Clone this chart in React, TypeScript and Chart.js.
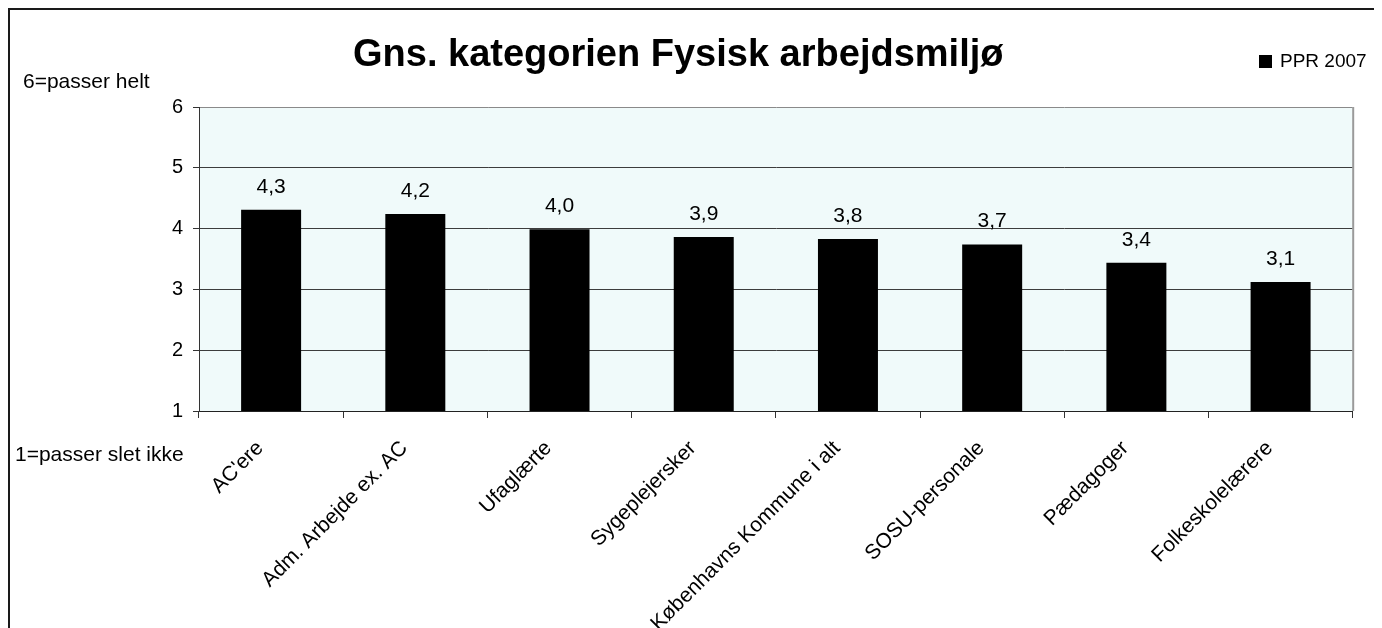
import React, { useEffect, useRef } from 'react';
import { Chart, registerables } from 'chart.js';

Chart.register(...registerables);

const chartTitle = 'Gns. kategorien Fysisk arbejdsmiljø';
const seriesName = 'PPR 2007';
const topNote = '6=passer helt';
const bottomNote = '1=passer slet ikke';
const categories = [
  "AC'ere",
  'Adm. Arbejde ex. AC',
  'Ufaglærte',
  'Sygeplejersker',
  'Københavns Kommune i alt',
  'SOSU-personale',
  'Pædagoger',
  'Folkeskolelærere',
];
const values = [4.31, 4.24, 3.99, 3.86, 3.83, 3.74, 3.44, 3.12];
const yMin = 1;
const yMax = 6;
const yStep = 1;

const W = 1400;
const H = 640;
const FONT = "'Liberation Sans', Arial, Helvetica, sans-serif";

const decorPlugin = {
  id: 'decor',
  beforeDraw(chart: any) {
    const { ctx, chartArea } = chart;
    ctx.save();
    ctx.fillStyle = '#ffffff';
    ctx.fillRect(0, 0, W, H);
    ctx.fillStyle = '#F0FAFA';
    ctx.fillRect(chartArea.left, chartArea.top, chartArea.right - chartArea.left, chartArea.bottom - chartArea.top);
    // outer frame
    ctx.strokeStyle = '#1a1a1a';
    ctx.lineWidth = 2;
    ctx.strokeRect(1, 1, W - 2, H - 2);
    ctx.restore();
  },
  afterDraw(chart: any) {
    const { ctx, chartArea } = chart;
    ctx.save();
    // right plot border
    ctx.strokeStyle = '#9a9a9a';
    ctx.lineWidth = 2;
    ctx.beginPath();
    ctx.moveTo(chartArea.right + 0.5, chartArea.top);
    ctx.lineTo(chartArea.right + 0.5, chartArea.bottom);
    ctx.stroke();

    // title
    ctx.fillStyle = '#000';
    ctx.font = `bold 38px ${FONT}`;
    ctx.textAlign = 'left';
    ctx.textBaseline = 'alphabetic';
    ctx.fillText(chartTitle, 345, 58);

    // side notes
    ctx.font = `21px ${FONT}`;
    ctx.fillText(topNote, 15, 80);
    ctx.fillText(bottomNote, 7, 453);

    // legend
    ctx.fillRect(1251, 47, 13, 13);
    ctx.font = `19px ${FONT}`;
    ctx.fillText(seriesName, 1272, 59);

    // data labels
    const meta = chart.getDatasetMeta(0);
    ctx.font = `21px ${FONT}`;
    ctx.textAlign = 'center';
    meta.data.forEach((bar: any, i: number) => {
      const v = values[i];
      ctx.fillText(v.toFixed(1).replace('.', ','), bar.x, bar.y - 17);
    });
    ctx.restore();
  },
};

export default function App() {
  const ref = useRef<HTMLCanvasElement | null>(null);

  useEffect(() => {
    document.documentElement.style.overflow = 'hidden';
    document.body.style.overflow = 'hidden';
    const canvas = ref.current!;
    const chart = new Chart(canvas, {
      type: 'bar',
      data: {
        labels: categories,
        datasets: [
          {
            label: seriesName,
            data: values,
            backgroundColor: '#000000',
            borderWidth: 0,
            barPercentage: 0.416,
            categoryPercentage: 1,
          },
        ],
      },
      options: {
        responsive: false,
        animation: false,
        devicePixelRatio: 1,
        layout: { padding: { left: 0, top: 99, right: 55.3, bottom: 0 } },
        plugins: {
          legend: { display: false },
          title: { display: false },
          tooltip: { enabled: false },
        },
        scales: {
          x: {
            afterFit: (s: any) => {
              s.height = H - 403;
            },
            grid: {
              offset: true,
              drawOnChartArea: false,
              drawTicks: true,
              tickLength: 7,
              tickColor: '#333333',
            },
            border: { color: '#222222', width: 1 },
            ticks: {
              autoSkip: false,
              maxRotation: 45,
              minRotation: 45,
              padding: 18,
              labelOffset: -11,
              color: '#000',
              font: { family: FONT, size: 21 },
            },
          },
          y: {
            min: yMin,
            max: yMax,
            afterFit: (s: any) => {
              s.width = 191;
            },
            ticks: {
              stepSize: yStep,
              padding: 10,
              color: '#000',
              font: { family: FONT, size: 20 },
            },
            grid: {
              color: (c: any) => (c.tick && c.tick.value === yMax ? '#8a8a8a' : '#3c3c3c'),
              tickColor: '#333333',
              tickLength: 6,
              lineWidth: 1,
            },
            border: { color: '#333333', width: 1 },
          },
        },
      },
      plugins: [decorPlugin],
    });
    return () => chart.destroy();
  }, []);

  return (
    <div style={{ width: W, height: H }}>
      <canvas ref={ref} width={W} height={H} style={{ width: W, height: H, display: 'block' }} />
    </div>
  );
}
